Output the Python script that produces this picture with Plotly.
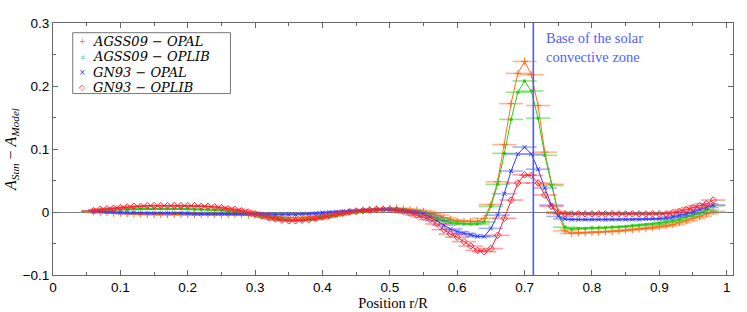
import plotly.graph_objects as go

# Positions r/R of the sampled points (0.06 ... 0.98, step 0.01)
R_POS = [round(0.06 + 0.01 * i, 2) for i in range(93)]

AGSS09_OPAL = [
    0.000, -0.001, -0.001, -0.002, -0.002, -0.003, -0.003, -0.003, -0.004, -0.004,   # 0.06-0.15
    -0.004, -0.004, -0.004, -0.004, -0.004, -0.004, -0.004, -0.004, -0.004, -0.004,  # 0.16-0.25
    -0.004, -0.004, -0.004, -0.005, -0.005, -0.006, -0.007, -0.008, -0.009, -0.009,  # 0.26-0.35
    -0.009, -0.009, -0.008, -0.007, -0.005, -0.004, -0.002, -0.001, 0.001, 0.002,    # 0.36-0.45
    0.003, 0.004, 0.005, 0.005, 0.006, 0.006, 0.005, 0.004, 0.003, 0.001,            # 0.46-0.55
    -0.002, -0.005, -0.009, -0.012, -0.014, -0.015, -0.015, -0.015, -0.010, 0.012,   # 0.56-0.65
    0.048, 0.107, 0.172, 0.220, 0.239, 0.218, 0.169, 0.095, 0.044, -0.002,           # 0.66-0.75
    -0.030, -0.034, -0.033, -0.033, -0.032, -0.032, -0.031, -0.031, -0.030, -0.029,  # 0.76-0.85
    -0.028, -0.027, -0.026, -0.025, -0.023, -0.022, -0.020, -0.017, -0.014, -0.010,  # 0.86-0.95
    -0.007, -0.003, 0.001,                                                             # 0.96-0.98
]

AGSS09_OPLIB = [
    0.002, 0.003, 0.003, 0.004, 0.004, 0.004, 0.005, 0.005, 0.005, 0.005,
    0.005, 0.005, 0.005, 0.005, 0.005, 0.004, 0.004, 0.004, 0.003, 0.003,
    0.002, 0.001, 0.000, -0.002, -0.004, -0.006, -0.008, -0.010, -0.012, -0.013,
    -0.013, -0.013, -0.012, -0.011, -0.009, -0.007, -0.005, -0.003, -0.001, 0.000,
    0.001, 0.002, 0.003, 0.004, 0.004, 0.004, 0.003, 0.001, -0.001, -0.003,
    -0.006, -0.010, -0.014, -0.017, -0.018, -0.019, -0.019, -0.019, -0.016, 0.009,
    0.044, 0.093, 0.147, 0.190, 0.208, 0.192, 0.149, 0.090, 0.042, -0.002,
    -0.024, -0.027, -0.026, -0.026, -0.025, -0.025, -0.025, -0.024, -0.024, -0.023,
    -0.022, -0.021, -0.020, -0.019, -0.018, -0.016, -0.014, -0.012, -0.008, -0.005,
    -0.002, 0.003, 0.010,
]

GN93_OPAL = [
    0.001, 0.001, 0.000, 0.000, -0.001, -0.001, -0.001, -0.002, -0.002, -0.002,
    -0.002, -0.002, -0.002, -0.002, -0.002, -0.003, -0.003, -0.003, -0.003, -0.003,
    -0.003, -0.003, -0.003, -0.003, -0.003, -0.003, -0.004, -0.004, -0.004, -0.004,
    -0.004, -0.003, -0.003, -0.002, -0.001, 0.000, 0.000, 0.001, 0.002, 0.002,
    0.003, 0.003, 0.004, 0.004, 0.004, 0.003, 0.002, 0.001, -0.001, -0.003,
    -0.008, -0.014, -0.021, -0.027, -0.031, -0.034, -0.036, -0.039, -0.039, -0.026,
    -0.005, 0.029, 0.065, 0.092, 0.103, 0.092, 0.068, 0.038, 0.011, -0.007,
    -0.011, -0.012, -0.012, -0.012, -0.012, -0.012, -0.012, -0.012, -0.012, -0.012,
    -0.012, -0.012, -0.011, -0.011, -0.011, -0.010, -0.008, -0.006, -0.003, 0.000,
    0.004, 0.007, 0.011,
]

GN93_OPLIB = [
    0.002, 0.004, 0.005, 0.006, 0.007, 0.008, 0.009, 0.009, 0.010, 0.010,
    0.010, 0.010, 0.010, 0.010, 0.010, 0.010, 0.009, 0.009, 0.008, 0.007,
    0.005, 0.004, 0.002, 0.000, -0.003, -0.006, -0.009, -0.011, -0.013, -0.014,
    -0.014, -0.013, -0.012, -0.010, -0.008, -0.006, -0.004, -0.002, 0.000, 0.001,
    0.002, 0.003, 0.004, 0.004, 0.004, 0.003, 0.001, -0.002, -0.005, -0.008,
    -0.012, -0.019, -0.028, -0.035, -0.040, -0.047, -0.054, -0.061, -0.063, -0.058,
    -0.037, -0.010, 0.019, 0.046, 0.059, 0.058, 0.046, 0.027, 0.009, 0.000,
    -0.003, -0.003, -0.003, -0.003, -0.003, -0.003, -0.003, -0.003, -0.003, -0.003,
    -0.003, -0.003, -0.003, -0.003, -0.003, -0.003, -0.001, 0.001, 0.004, 0.007,
    0.010, 0.013, 0.019,
]

X_ERR = 0.018          # half-width of the horizontal error bars
BCZ = 0.713            # base of the solar convective zone

SERIES_NAMES = ["AGSS09 − OPAL", "AGSS09 − OPLIB", "GN93 − OPAL", "GN93 − OPLIB"]
SERIES_VALUES = [AGSS09_OPAL, AGSS09_OPLIB, GN93_OPAL, GN93_OPLIB]

for v in SERIES_VALUES:
    assert len(v) == len(R_POS), len(v)

styles = [
    dict(color="#ff6d1f", bar="rgba(255,120,40,0.55)", symbol="cross-thin-open", size=5, lw=1.0),
    dict(color="#2ccc16", bar="rgba(40,205,20,0.5)", symbol="circle", size=3.5, lw=0),
    dict(color="#2f3cff", bar="rgba(60,80,255,0.45)", symbol="x-thin-open", size=4, lw=1.0),
    dict(color="#ff1f2e", bar="rgba(255,40,55,0.45)", symbol="diamond-open", size=5, lw=1.0),
]

fig = go.Figure()
for name, vals, st in zip(SERIES_NAMES, SERIES_VALUES, styles):
    fig.add_trace(go.Scatter(
        x=R_POS, y=vals, name=name, mode="lines+markers",
        line=dict(color=st["color"], width=1),
        marker=dict(symbol=st["symbol"], size=st["size"], color=st["color"],
                    line=dict(color=st["color"], width=st["lw"])),
        error_x=dict(type="constant", value=X_ERR, color=st["bar"], thickness=1.6, width=0),
        showlegend=False,
    ))

# vertical line marking base of convective zone
fig.add_shape(type="line", xref="x", yref="paper", x0=BCZ, x1=BCZ, y0=0, y1=1,
              line=dict(color="#4a5cff", width=1.6))

fig.add_annotation(xref="paper", yref="paper", x=0.7235, y=0.903,
                   xanchor="left", yanchor="middle", align="left", showarrow=False,
                   borderpad=0,
                   text="Base of the solar<br>convective zone",
                   font=dict(family="Liberation Serif", size=14.5, color="#5060ff"))

# legend (manual)
fig.add_shape(type="rect", xref="paper", yref="paper", x0=0.029, x1=0.261, y0=0.720, y1=0.9615,
              line=dict(color="#777777", width=1), fillcolor="white", layer="above")
rows_y = [0.9275, 0.866, 0.8045, 0.743]
glyphs = ["+", "o", "×", "◇"]
glyph_sizes = [8, 6, 8, 8]
for name, gy, g, gs, st in zip(SERIES_NAMES, rows_y, glyphs, glyph_sizes, styles):
    fig.add_annotation(xref="paper", yref="paper", x=0.0437, y=gy, xanchor="center",
                       yanchor="middle", showarrow=False, text=g, borderpad=0,
                       font=dict(family="DejaVu Sans", size=gs, color=st["color"]))
    fig.add_annotation(xref="paper", yref="paper", x=0.058, y=gy, xanchor="left",
                       yanchor="middle", showarrow=False, borderpad=0,
                       text="<i>" + name + "</i>",
                       font=dict(family="DejaVu Serif", size=13, color="black"))

axis_common = dict(
    showline=True, linecolor="#666666", linewidth=1, mirror="ticks",
    ticks="inside", ticklen=5, tickcolor="#666666", showgrid=False,
    tickfont=dict(family="Liberation Sans", size=13.5, color="black"),
)

fig.update_xaxes(range=[0, 1.0094], dtick=0.1, tick0=0, zeroline=False,
                 minor=dict(dtick=0.05, ticks="inside", ticklen=3, tickcolor="#666666"),
                 title=dict(text="Position r/R", standoff=2,
                            font=dict(family="Liberation Serif", size=14.5, color="black")),
                 **axis_common)
fig.update_yaxes(range=[-0.1, 0.3], dtick=0.1, tick0=0, zeroline=True,
                 zerolinecolor="#808080", zerolinewidth=1,
                 minor=dict(dtick=0.05, ticks="inside", ticklen=3, tickcolor="#666666"),
                 title=dict(text="<i>A</i><sub><i>Sun</i></sub> − <i>A</i><sub><i>Model</i></sub>",
                            standoff=2,
                            font=dict(family="Liberation Serif", size=16, color="black")),
                 **axis_common)

fig.update_layout(
    width=747, height=312,
    margin=dict(l=53, r=14, t=23, b=37, autoexpand=False),
    paper_bgcolor="white", plot_bgcolor="white",
    showlegend=False,
)

fig.write_html("out.html", config={"displayModeBar": False},
               post_script="document.body.style.margin='0';document.body.style.overflow='hidden';")
